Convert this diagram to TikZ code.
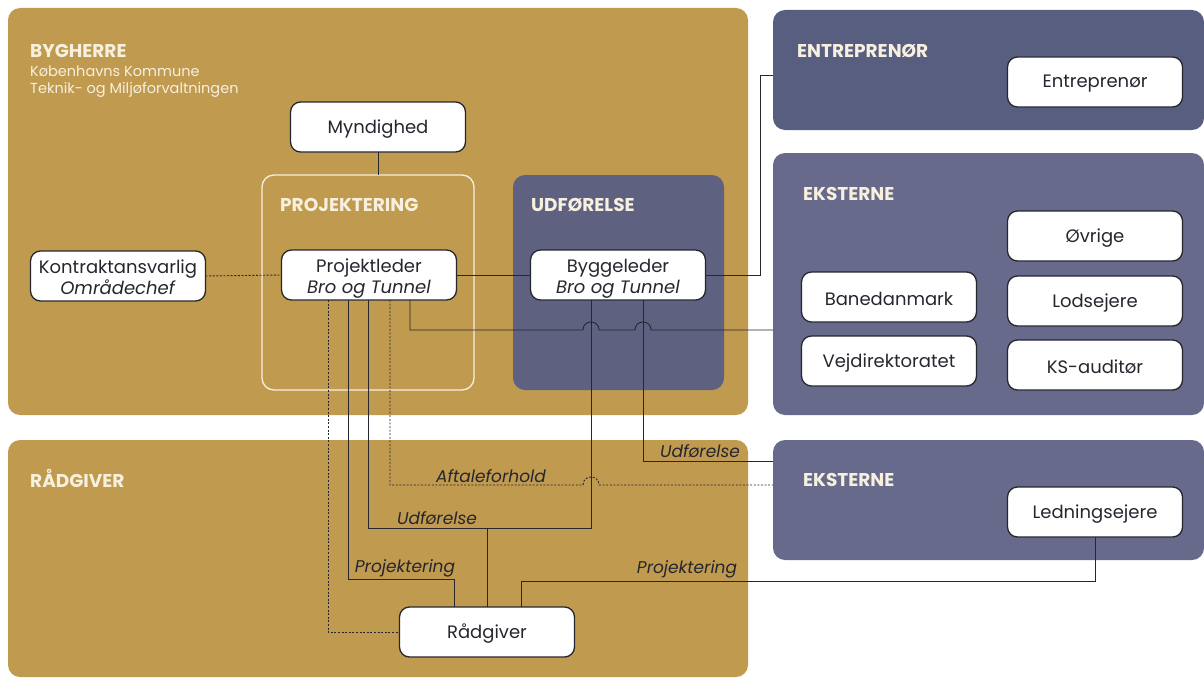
\documentclass[tikz,border=0pt]{standalone}
\usepackage{fontspec}
\setmainfont{Poppins}
\usetikzlibrary{calc}
\definecolor{gold}{HTML}{C09A4F}
\definecolor{slateA}{HTML}{585E7F}
\definecolor{slateB}{HTML}{676A8A}
\definecolor{slateC}{HTML}{5F6181}
\definecolor{cream}{HTML}{F7F0DE}
\definecolor{ink}{HTML}{26262F}
\newcommand\lowone[1]{\raisebox{-2pt}[\height][\depth]{#1}}
\newcommand\lowtwo[2]{\raisebox{-4pt}[\height][\depth]{\begin{tabular}{@{}c@{}}#1\\#2\end{tabular}}}
\begin{document}
\begin{tikzpicture}[x=1pt,y=-1pt,
  box/.style={draw=ink,line width=1.3pt,fill=white,rounded corners=10pt,minimum width=175pt,minimum height=50pt,inner sep=0pt,outer sep=0pt,align=center,font=\fontsize{18}{21}\selectfont,text=ink},
  panel/.style={rounded corners=12pt,inner sep=0pt,outer sep=0pt},
  head/.style={anchor=base west,text=cream,inner sep=0pt,font=\fontsize{18.5}{22}\selectfont\bfseries},
  sub/.style={anchor=base west,text=cream,inner sep=0pt,font=\fontsize{14.5}{17}\selectfont},
  lbl/.style={inner sep=0pt,text=ink,font=\fontsize{17}{20}\selectfont\itshape},
  link/.style={draw=ink,line width=0.9pt},
  dlink/.style={link,dash pattern=on 2pt off 1.6pt}]
\useasboundingbox (0,0) rectangle (1204,677);
% panels
\node[panel,fill=gold,minimum width=740pt,minimum height=407pt] (byg) at (378,211.5) {};
\node[panel,fill=gold,minimum width=740pt,minimum height=237pt] (radp) at (378,558.5) {};
\node[panel,fill=slateA,minimum width=431pt,minimum height=120pt] (entp) at (988.5,70) {};
\node[panel,fill=slateB,minimum width=431pt,minimum height=262pt] (eks1) at (988.5,284) {};
\node[panel,fill=slateB,minimum width=431pt,minimum height=120pt] (eks2) at (988.5,500) {};
\node[panel,draw=cream,line width=1.3pt,minimum width=212pt,minimum height=215pt] (projf) at (368,282.5) {};
\node[panel,fill=slateC,minimum width=211pt,minimum height=215pt] (udf) at (618.5,282.5) {};
% headings
\node[head] (h1) at (30,57) {BYGHERRE};
\node[sub] (h1a) at (30,76) {Københavns Kommune};
\node[sub] (h1b) at (30,93) {Teknik- og Miljøforvaltningen};
\node[head] (h2) at (280,211) {PROJEKTERING};
\node[head] (h3) at (531,211) {UDFØRELSE};
\node[head] (h4) at (797,57) {ENTREPRENØR};
\node[head] (h5) at (803,200) {EKSTERNE};
\node[head] (h6) at (803,486) {EKSTERNE};
\node[head] (h7) at (30,487) {RÅDGIVER};
% boxes
\node[box] (myn) at (378,127) {\lowone{Myndighed}};
\node[box] (ka) at (118,276) {\lowtwo{Kontraktansvarlig}{\textit{Områdechef}}};
\node[box] (pl) at (369,275) {\lowtwo{Projektleder}{\textit{Bro og Tunnel}}};
\node[box] (bl) at (618,275) {\lowtwo{Byggeleder}{\textit{Bro og Tunnel}}};
\node[box] (ent) at (1095,82) {\lowone{Entreprenør}};
\node[box] (ovr) at (1095,236) {\lowone{Øvrige}};
\node[box] (bane) at (889,297) {\lowone{Banedanmark}};
\node[box] (lods) at (1095,301) {\lowone{Lodsejere}};
\node[box] (vej) at (889,361) {\lowone{Vejdirektoratet}};
\node[box] (ks) at (1095,365) {\lowone{KS-auditør}};
\node[box] (led) at (1095,512) {\lowone{Ledningsejere}};
\node[box] (rad) at (487,632) {\lowone{Rådgiver}};
% helper coordinates
\coordinate (x328) at (328,0);
\coordinate (x348) at (348,0);
\coordinate (x368) at (368,0);
\coordinate (x390) at (390,0);
\coordinate (x410) at (410,0);
\coordinate (x454) at (454,0);
\coordinate (x487) at (487,0);
\coordinate (x521) at (521,0);
\coordinate (x591) at (591,0);
\coordinate (x643) at (643,0);
\coordinate (c1) at (760,75);
% connectors
\draw[link] (myn.south) -- (myn.south |- projf.north);
\draw[dlink] (ka.east) -- (pl.west);
\draw[link] (pl.east) -- (bl.west);
\draw[link] (bl.east) -| (c1) -- (c1 -| entp.west);
\draw[link] (pl.south -| x410) -- (410,330) -- (583,330)
  .. controls (583,319.3) and (599,319.3) .. (599,330) -- (635,330)
  .. controls (635,319.3) and (651,319.3) .. (651,330) -- (773,330);
\draw[link] (bl.south -| x591) -- (591,528) -- (368,528) -- (pl.south -| x368);
\draw[link] (487,528) -- (rad.north -| x487);
\draw[link] (bl.south -| x643) -- (643,461) -- (eks2.west |- 0,461);
\draw[dlink] (pl.south -| x390) -- (390,485) -- (583,485)
  .. controls (583,474.3) and (599,474.3) .. (599,485) -- (eks2.west |- 0,485);
\draw[link] (pl.south -| x348) -- (348,579) -- (454,579) -- (rad.north -| x454);
\draw[dlink] (pl.south -| x328) -- (328,632) -- (rad.west);
\draw[link] (led.south) -- (1095,581) -- (521,581) -- (rad.north -| x521);
% labels
\node[lbl] (l1) at (491,476) {Aftaleforhold};
\node[lbl] (l2) at (437,518) {Udførelse};
\node[lbl] (l3) at (700,451) {Udførelse};
\node[lbl] (l4) at (405,568) {Projektering};
\node[lbl] (l5) at (687,569) {Projektering};
\end{tikzpicture}
\end{document}
